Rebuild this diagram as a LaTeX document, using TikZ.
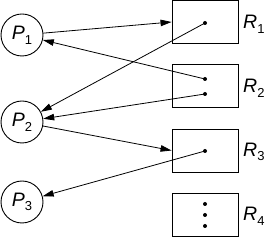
\documentclass[tikz,border=0pt]{standalone}
\usepackage{fontspec}
\setmainfont{Liberation Sans}
\usetikzlibrary{arrows.meta}
\newcommand\plab[2]{\textit{#1}\raisebox{-0.45ex}{\fontsize{13}{13}\selectfont #2}}
\begin{document}
\begin{tikzpicture}[x=1pt,y=-1pt,
  proc/.style={circle,draw,line width=0.9pt,minimum size=42pt,inner sep=0pt,font=\fontsize{19.5}{19.5}\selectfont},
  res/.style={rectangle,draw,line width=0.9pt,minimum width=66pt,minimum height=43pt,inner sep=0pt},
  rlab/.style={anchor=west,inner sep=0pt,font=\fontsize{19.5}{19.5}\selectfont},
  dot/.style={circle,fill,inner sep=0pt,minimum size=4pt},
  arr/.style={line width=0.8pt,-{Triangle[length=11pt,width=6.5pt]}}]
\useasboundingbox (0,0) rectangle (265,237);
\node[proc] (P1) at (22,35) {\plab{P}{1}};
\node[proc] (P2) at (22,122) {\plab{P}{2}};
\node[proc] (P3) at (22,202) {\plab{P}{3}};
\node[res] (R1) at (205,22) {};
\node[res] (R2) at (205,86) {};
\node[res] (R3) at (205,150.5) {};
\node[res] (R4) at (205,214.5) {};
\node[rlab] (L1) at (243,24) {\plab{R}{1}};
\node[rlab] (L2) at (243,88) {\plab{R}{2}};
\node[rlab] (L3) at (243,152) {\plab{R}{3}};
\node[rlab] (L4) at (243,216) {\plab{R}{4}};
\node[dot] (d1) at (205,23) {};
\node[dot] (d2a) at (205,79) {};
\node[dot] (d2b) at (205,94) {};
\node[dot] (d3) at (205,151) {};
\node[dot] (d4a) at (205,204) {};
\node[dot] (d4b) at (205,215) {};
\node[dot] (d4c) at (205,226) {};
\draw[arr] (P1) -- (R1.west);
\draw[arr] (d2a.center) -- (P1);
\draw[arr] (d1.center) -- (P2);
\draw[arr] (d2b.center) -- (P2);
\draw[arr] (P2) -- (R3.west);
\draw[arr] (d3.center) -- (P3);
\end{tikzpicture}
\end{document}
